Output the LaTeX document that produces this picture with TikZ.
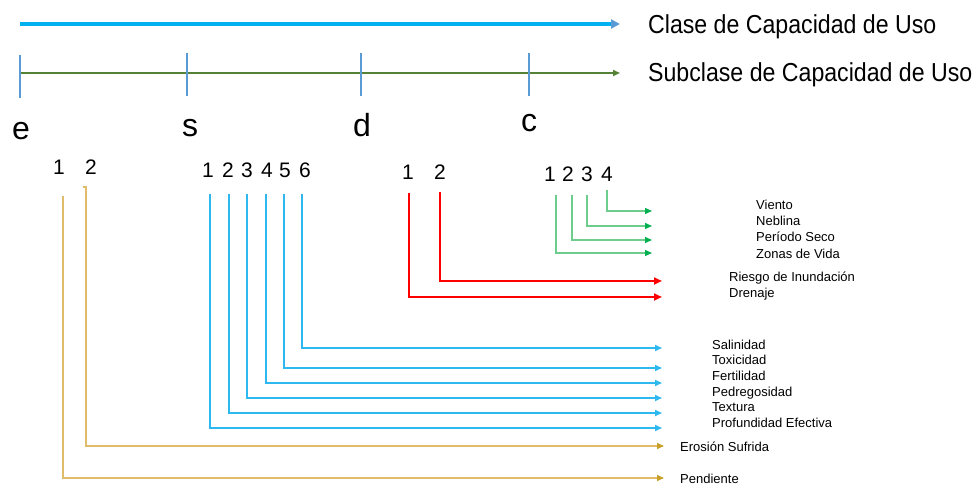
\documentclass[tikz,border=0pt]{standalone}
\usepackage{fontspec}
\setmainfont{Liberation Sans}
\usetikzlibrary{arrows.meta}
\definecolor{topblue}{RGB}{0,176,240}
\definecolor{steel}{RGB}{91,155,213}
\definecolor{subgreen}{RGB}{84,130,53}
\definecolor{goldline}{RGB}{222,188,105}
\definecolor{goldtip}{RGB}{200,160,40}
\definecolor{sblue}{RGB}{45,185,240}
\definecolor{cgreen}{RGB}{110,205,140}
\definecolor{cgreentip}{RGB}{0,176,80}
\tikzset{
  biglabel/.style={anchor=west,inner sep=0pt,font=\fontsize{26}{30}\selectfont,xscale=0.89},
  letterlbl/.style={anchor=base,inner sep=0pt,font=\fontsize{32}{36}\selectfont},
  digit/.style={anchor=base,inner sep=0pt,font=\fontsize{21}{24}\selectfont},
  smalllbl/.style={anchor=west,inner sep=0pt,font=\fontsize{13}{15}\selectfont,text height=9.5pt,text depth=2.7pt},
  tickline/.style={steel,line width=1.5pt},
  eline/.style={goldline,line width=1.6pt,-{Triangle[length=7pt,width=6pt,color=goldtip]}},
  sline/.style={sblue,line width=1.6pt,-{Triangle[length=7pt,width=6pt]}},
  dline/.style={red,line width=2.6pt,-{Triangle[length=8pt,width=7pt]}},
  cline/.style={cgreen,line width=1.3pt,-{Triangle[length=7pt,width=6pt,color=cgreentip]}},
}
\begin{document}
\begin{tikzpicture}[x=1pt,y=-1pt]
\useasboundingbox (0,0) rectangle (978,486);
% top axes
\coordinate (cs) at (20,24); \coordinate (ce) at (620,24);
\draw[topblue,line width=4pt,-{Triangle[length=9pt,width=9pt,color=steel]}] (cs) -- (ce);
\node[biglabel] (clase) at (648,27) {Clase de Capacidad de Uso};
\coordinate (ss) at (20,73); \coordinate (se) at (620,73);
\draw[subgreen,line width=2pt,-{Triangle[length=7pt,width=6pt]}] (ss) -- (se);
\node[biglabel] (subclase) at (648,75) {Subclase de Capacidad de Uso};
\foreach \x/\a/\b [count=\i] in {20/55/98,187/53/96,361/53/96,529/53/96}{
  \coordinate (t\i a) at (\x,\a); \coordinate (t\i b) at (\x,\b);
  \draw[tickline] (t\i a) -- (t\i b);
}
% letters
\node[letterlbl] (le) at (21,140) {e};
\node[letterlbl] (ls) at (190,137) {s};
\node[letterlbl] (ld) at (362,137) {d};
\node[letterlbl] (lc) at (529,132) {c};
% digits
\node[digit] (e1) at (59,175) {1};
\node[digit] (e2) at (91,175) {2};
\foreach \x [count=\i] in {208,228,247,267,285,305}{\node[digit] (s\i) at (\x,178) {\i};}
\node[digit] (d1) at (408,180) {1};
\node[digit] (d2) at (440,180) {2};
\foreach \x [count=\i] in {550,568,587,607}{\node[digit] (c\i) at (\x,182) {\i};}
% labels
\node[smalllbl] (viento) at (756,206) {Viento};
\node[smalllbl] (neblina) at (756,222) {Neblina};
\node[smalllbl] (periodo) at (756,238) {Período Seco};
\node[smalllbl] (zonas) at (756,255) {Zonas de Vida};
\node[smalllbl] (riesgo) at (729,278) {Riesgo de Inundación};
\node[smalllbl] (drenaje) at (729,294) {Drenaje};
\node[smalllbl] (salin) at (712,346) {Salinidad};
\node[smalllbl] (toxic) at (712,361) {Toxicidad};
\node[smalllbl] (fertil) at (712,377) {Fertilidad};
\node[smalllbl] (pedreg) at (712,393) {Pedregosidad};
\node[smalllbl] (textura) at (712,408) {Textura};
\node[smalllbl] (profund) at (712,424) {Profundidad Efectiva};
\node[smalllbl] (erosion) at (680,448) {Erosión Sufrida};
\node[smalllbl] (pendiente) at (680,480) {Pendiente};
% e connectors
\coordinate (e1top) at (63,196); \coordinate (e1end) at (664,478);
\draw[eline] (e1top) |- (e1end);
\coordinate (e2hook) at (83,187); \coordinate (e2top) at (86,187); \coordinate (e2end) at (664,446);
\draw[eline] (e2hook) -- (e2top) |- (e2end);
% s connectors
\foreach \x/\yy [count=\i] in {210/428,229/413,247/398,266/383,284/368,302/348}{
  \coordinate (s\i top) at (\x,194); \coordinate (s\i end) at (662,\yy);
  \draw[sline] (s\i top) |- (s\i end);
}
% d connectors
\coordinate (d1top) at (409,193); \coordinate (d1end) at (662,297);
\draw[dline] (d1top) |- (d1end);
\coordinate (d2top) at (440,192); \coordinate (d2end) at (662,281);
\draw[dline] (d2top) |- (d2end);
% c connectors
\foreach \x/\t/\yy [count=\i] in {556/195/253,572/195/240,587/195/226,607/190/211}{
  \coordinate (c\i top) at (\x,\t); \coordinate (c\i end) at (652,\yy);
  \draw[cline] (c\i top) |- (c\i end);
}
\end{tikzpicture}
\end{document}
